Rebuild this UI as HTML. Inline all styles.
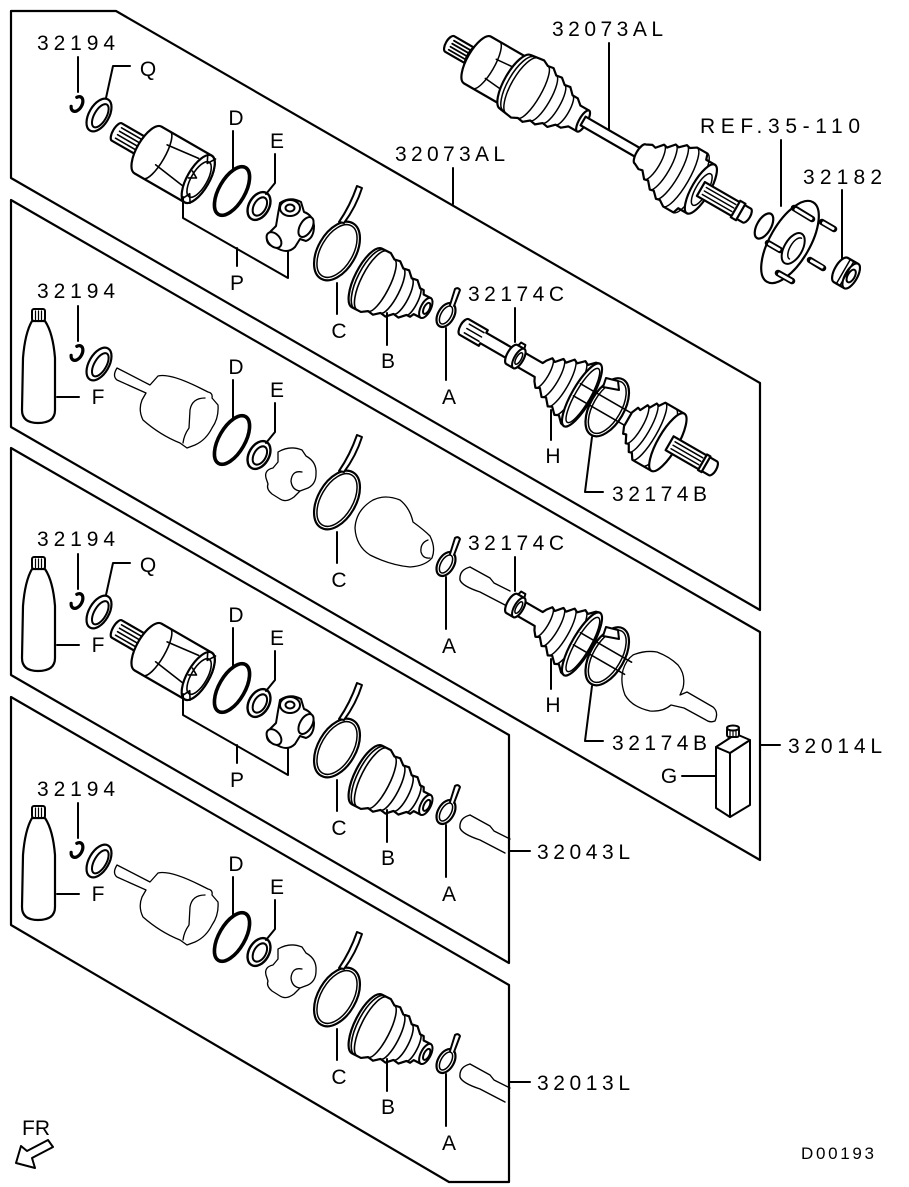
<!DOCTYPE html>
<html><head><meta charset="utf-8">
<style>
html,body{margin:0;padding:0;background:#fff;}
svg{display:block;}
text{font-family:"Liberation Sans",Arial,sans-serif;font-size:21px;fill:#000;stroke:none;}
</style></head>
<body>
<svg width="909" height="1187" viewBox="0 0 909 1187" xmlns="http://www.w3.org/2000/svg" xmlns:xlink="http://www.w3.org/1999/xlink">
<defs>
  <g id="bootB">
    <g transform="translate(367,278) rotate(27)">
      <path fill="#fff" stroke-width="2.2" d="M0,-33 L10,-33 L16,-29 L22,-30 L28,-25 L34,-26 L40,-20 L46,-21 L52,-15 L56,-15 L58,-11 L66,-11 L66,11 L58,11 L56,15 L52,15 L46,21 L40,20 L34,26 L28,25 L22,30 L16,29 L10,33 L0,33 A12 33 0 0 1 0,-33 Z"/>
      <path stroke-width="1.6" d="M3,-33 A12 33 0 0 0 3,33 M6,-33 A11 33 0 0 0 6,33 M16,-29 A8 29 0 0 1 16,29 M28,-25 A7 25 0 0 1 28,25 M40,-20 A6 20 0 0 1 40,20 M52,-15 A4 15 0 0 1 52,15"/>
      <ellipse cx="66" rx="5" ry="11" fill="#fff"/>
      <ellipse cx="67" rx="2.8" ry="6"/>
    </g>
    <path d="M387,313 V345"/>
  </g>

  <g id="common">
    <g transform="translate(77,104) rotate(30)"><ellipse rx="5" ry="8" stroke-width="3.2" stroke-dasharray="31 11" stroke-dashoffset="15.5"/></g>
    <g transform="translate(99,115) rotate(30)"><ellipse rx="10" ry="18" fill="#fff" stroke-width="2.2"/><ellipse cx="1.5" rx="6" ry="13"/></g>
    <g transform="translate(232,191) rotate(30)"><ellipse rx="13" ry="27" stroke-width="3.6"/></g>
    <g transform="translate(259,206) rotate(30)"><ellipse rx="10" ry="15" fill="#fff" stroke-width="2.4"/><ellipse cx="1" rx="6" ry="10"/></g>
    <g transform="translate(337,251) rotate(30)"><ellipse rx="19" ry="32" stroke-width="2.2"/><ellipse rx="16" ry="29" stroke-width="1.5"/></g>
    <path fill="#fff" d="M339,222 Q350,206 357,186 L362,188 Q356,207 344,223 Z"/>
    <g transform="translate(446,315) rotate(30)"><ellipse rx="8" ry="13" stroke-width="2.2"/><ellipse rx="5" ry="10" stroke-width="1.5"/></g>
    <path fill="#fff" d="M450,305 L455,289 Q458,287 460,290 L454,306"/>
    <path d="M78,57 V92 M233,131 V170 M275,154 V183 L266,194 M337,283 V314 M446,328 V380"/>
  </g>

  <g id="grpAx">
    <path d="M106,98 L113,66 H130"/>
    <g transform="translate(148,150) rotate(30)">
      <path fill="#fff" stroke-width="2.2" d="M-8,-10 L-36,-10 A4 10 0 0 0 -36,10 L-8,10 Z"/>
      <path stroke-width="1.6" d="M-34,-6 H-10 M-34,-2 H-10 M-34,2 H-10 M-34,6 H-10"/>
      <path fill="#fff" d="M-10,-8 H0 V8 H-10 Z"/>
      <path fill="#fff" stroke-width="2.2" d="M0,-27 H58 A11 27 0 0 1 58,27 H0 A11 27 0 0 1 0,-27 Z"/>
      <path stroke-width="1.6" d="M10,-27 A8 27 0 0 1 10,27 M14,9 L50,14 M14,-14 L48,-18"/>
      <ellipse cx="58" rx="11" ry="27" fill="#fff" stroke-width="2.2"/>
      <ellipse cx="59" rx="8" ry="20" stroke-width="1.6"/>
      <path stroke-width="1.6" d="M54,-26 L58,-18 L63,-26 M54,25 L58,17 L63,25 M49,-4 L56,0 L49,4"/>
    </g>
    <path fill="#fff" d="M280,203 Q290,196 301,202 L304,212 Q313,215 314,226 Q314,238 306,241 L300,239 L295,247 Q289,253 281,250 L270,245 Q265,241 268,234 L276,226 L278,214 Z"/>
    <ellipse cx="290" cy="208" rx="10" ry="8" fill="#fff"/>
    <ellipse cx="290" cy="208" rx="4.5" ry="3.5"/>
    <g transform="translate(306,227) rotate(30)"><ellipse rx="6" ry="11" fill="#fff"/></g>
    <g transform="translate(274,240) rotate(-40)"><ellipse rx="6" ry="9" fill="#fff"/></g>
    <path d="M183,197 V218 L288,278 V252 M237,248 V266"/>
    <use href="#bootB"/>
  </g>

  <g id="ghostGrp" stroke-width="1.3">
    <path d="M117,368 L150,385 L158,376 Q170,373 200,388 L208,392 Q213,393 212,398 L218,405 Q219,418 212,428 Q206,440 195,445 L187,448 L180,443 Q160,435 143,420 Q138,410 142,400 L146,393 L117,380 Q112,376 117,368 Z"/>
    <path d="M205,398 Q192,398 190,410 L189,428 Q184,435 183,443"/>
    <path d="M278,452 Q290,445 302,450 L306,456 Q317,462 316,474 Q316,484 308,488 L300,491 L294,497 Q286,503 280,499 L272,494 Q266,489 268,484 L266,478 Q264,470 273,468 L278,462 Z"/>
    <path d="M302,472 Q292,470 291,481 Q292,490 300,491"/>
  </g>

  <g id="bottleF">
    <path fill="#fff" stroke-width="2.2" d="M32,321 Q25,333 23,358 L22,410 Q22,423 38,423 Q55,423 55,410 L55,358 Q53,333 45,321 Z"/>
    <rect x="32" y="309" width="13" height="12" rx="2" fill="#fff"/>
    <path stroke-width="1.2" d="M35.5,311 V320 M38.5,311 V320 M41.5,311 V320"/>
    <path d="M57,397 H79"/>
  </g>

  <g id="gshaft" stroke-width="1.4">
    <path d="M470,567 L490,578 L494,583 L510,591 M505,605 L480,592 Q462,586 460,580 Q459,570 470,567"/>
  </g>

  <g id="hgrp">
    <g transform="translate(582,395) rotate(30)">
      <path fill="#fff" stroke-width="2.2" d="M-80,-8 L-50,-8 L-48,-12 L-44,-17 L-40,-15 L-34,-22 L-30,-20 L-24,-27 L-20,-25 L-14,-31 L-10,-29 L-4,-35 L0,-36 L0,36 L-4,35 L-10,29 L-14,31 L-20,25 L-24,27 L-30,20 L-34,22 L-40,15 L-44,17 L-48,12 L-50,8 L-80,8 A3.5 8 0 0 1 -80,-8 Z"/>
      <path stroke-width="1.5" d="M-44,-17 A5 17 0 0 1 -44,17 M-34,-22 A6 22 0 0 1 -34,22 M-24,-27 A7 27 0 0 1 -24,27 M-14,-31 A8 31 0 0 1 -14,31"/>
      <ellipse rx="10" ry="36" fill="#fff" stroke-width="2.2"/>
      <ellipse cx="1" rx="7.5" ry="31" stroke-width="1.5"/>
      <path fill="#fff" stroke-width="2.2" d="M-81,-11 H-73 A4.5 11 0 0 1 -73,11 H-81 A4.5 11 0 0 1 -81,-11 Z"/>
      <ellipse cx="-73" rx="4.5" ry="11" fill="#fff"/>
      <ellipse cx="-73" rx="2.5" ry="6.5" stroke-width="1.5"/>
      <path d="M-80,-11 L-79,-15 L-74,-15 L-73,-11"/>
      <path stroke-width="1.6" d="M-7,-9 H52 M-7,5 H52"/>
      <ellipse cx="28" cy="-2" rx="17" ry="32" stroke-width="2.2"/>
      <ellipse cx="28" cy="-2" rx="14" ry="29" stroke-width="1.5"/>
    </g>
    <path fill="#fff" d="M603,387 L606,378 L618,381 L619,390 Z"/>
    <path d="M515,308 V342 M551,410 V440 M592,437 L585,492 H603"/>
  </g>
</defs>

<g fill="none" stroke="#000" stroke-width="2" stroke-linejoin="round" stroke-linecap="round">
  <polygon points="11,11 116,11 760,383 760,610 11,178" stroke-width="2.2"/>
  <polygon points="11,200 760,632 760,860 11,427" stroke-width="2.2"/>
  <polygon points="11,448 509,735 509,963 11,675" stroke-width="2.2"/>
  <polygon points="11,697 509,985 509,1182 449,1182 11,925" stroke-width="2.2"/>

  <g transform="translate(448,43) rotate(30)" fill="#fff" stroke-width="2.2">
    <path d="M28,-9 H2 A4 9 0 0 0 2,9 H28 Z"/>
    <path fill="none" stroke-width="1.8" d="M4,-5 H26 M4,-1.5 H26 M4,2 H26 M4,5.5 H26"/>
    <path d="M28,-13 H36 A5 13 0 0 1 36,13 H28 A5 13 0 0 1 28,-13 Z"/>
    <path d="M34,-27 H76 A10 27 0 0 1 76,27 H34 A10 27 0 0 1 34,-27 Z"/>
    <path fill="none" stroke-width="1.5" d="M44,-27 A8 27 0 0 1 44,27 M50,-10 L72,-12 M50,12 L72,14"/>
    <path d="M78,-31 L92,-33 L98,-30 L104,-31 L110,-26 L116,-27 L122,-22 L128,-23 L134,-17 L140,-17 L146,-12 L156,-12 L156,12 L146,12 L140,17 L134,17 L128,23 L122,22 L116,27 L110,26 L104,31 L98,30 L92,33 L78,31 A11 31 0 0 1 78,-31 Z"/>
    <path fill="none" stroke-width="1.5" d="M82,-31 A11 31 0 0 0 82,31 M86,-32 A11 32 0 0 0 86,32 M98,-30 A8 30 0 0 1 98,30 M110,-26 A7 26 0 0 1 110,26 M122,-22 A6 22 0 0 1 122,22 M134,-17 A5 17 0 0 1 134,17"/>
    <ellipse cx="156" rx="4" ry="12"/>
    <path d="M156,-5 H226 V5 H156 Z"/>
    <path d="M222,-11 L228,-14 L232,-13 L238,-20 L242,-19 L248,-26 L252,-25 L258,-31 L262,-30 L268,-34 L280,-34 L282,-28 L292,-28 L292,28 L282,28 L280,34 L268,34 L262,30 L258,31 L252,25 L248,26 L242,19 L238,20 L232,13 L228,14 L222,11 A4 11 0 0 1 222,-11 Z"/>
    <path fill="none" stroke-width="1.5" d="M238,-20 A6 20 0 0 1 238,20 M248,-26 A7 26 0 0 1 248,26 M258,-31 A8 31 0 0 1 258,31 M268,-34 A9 34 0 0 1 268,34 M280,-34 A9 34 0 0 1 280,34"/>
    <ellipse cx="292" rx="9" ry="28"/>
    <ellipse cx="293" rx="6" ry="18" fill="none" stroke-width="1.5"/>
    <path d="M292,-8 H345 A3.5 8 0 0 1 345,8 H292 Z"/>
    <path fill="none" stroke-width="1.5" d="M296,-4 H330 M296,0 H330 M296,4 H330"/>
    <path d="M332,-9.5 H338 V9.5 H332 Z"/>
  </g>
  <path d="M609,43 V129 M453,168 V204 M781,140 V206 M842,190 V259"/>

  <!-- hub -->
  <g transform="translate(764,226) rotate(30)"><ellipse rx="7" ry="14" fill="#fff" stroke-width="2.2"/></g>
  <g transform="translate(790,242) rotate(30)">
    <ellipse rx="20" ry="46" fill="#fff" stroke-width="2.2"/>
    <ellipse cx="6" cy="4" rx="9" ry="17" fill="#fff"/>
    <path stroke-width="1.5" d="M8,-9 A5 11 0 0 0 8,15"/>
  </g>
  <g stroke-width="6.5"><path d="M794,208 L812,219 M822,222 L834,229 M810,260 L823,268 M778,273 L792,281 M768,243 L780,250"/></g>
  <g stroke-width="3" stroke="#fff"><path d="M796,209.5 L811,218.5 M823.5,223 L833,228.5 M811.5,261 L822,267 M779.5,274 L791,280.5 M769.5,244 L779,249.5"/></g>
  <g transform="translate(846,273) rotate(30)">
    <path fill="#fff" stroke-width="2.2" d="M-6,-14 H6 A6 14 0 0 1 6,14 H-6 A6 14 0 0 1 -6,-14 Z"/>
    <ellipse cx="6" rx="6" ry="14" fill="#fff"/>
    <ellipse cx="6" rx="3.5" ry="7"/>
    <path stroke-width="1.5" d="M-3,-14 V14 M1,-14 V14"/>
  </g>

  <!-- panel 1 -->
  <use href="#common"/>
  <use href="#grpAx"/>
  <g transform="translate(582,395) rotate(30)" fill="#fff">
    <path stroke-width="2.2" d="M-136,-9 H-114 V-6 H-80 V6 H-114 V9 H-136 A4 9 0 0 1 -136,-9 Z"/>
    <path fill="none" stroke-width="1.5" d="M-133,-5 H-116 M-133,0 H-116 M-133,5 H-116"/>
  </g>
  <use href="#hgrp"/>
  <g transform="translate(582,395) rotate(30)" fill="#fff" stroke-width="2.2">
    <path d="M52,-10 L55,-17 L58,-16 L62,-24 L65,-23 L69,-30 L72,-29 L76,-35 L98,-35 L98,31 L76,31 L72,25 L69,26 L65,19 L62,20 L58,12 L55,13 L52,6 Z"/>
    <path fill="none" stroke-width="1.5" d="M62,-24 A6 22 0 0 1 62,20 M69,-30 A7 28 0 0 1 69,26 M76,-35 A8 33 0 0 1 76,31 M88,-35 A9 33 0 0 1 88,31"/>
    <ellipse cx="98" cy="-2" rx="10" ry="33"/>
    <path d="M100,-10 H150 A3.5 8 0 0 1 150,6 H100 Z"/>
    <path fill="none" stroke-width="1.5" d="M104,-6 H136 M104,-2 H136 M104,2 H136"/>
    <path d="M138,-11 H142 V7 H138 Z"/>
  </g>

  <!-- panel 2 -->
  <use href="#common" transform="translate(0,249)"/>
  <use href="#ghostGrp"/>
  <use href="#bottleF"/>
  <path stroke-width="1.3" d="M373,500 Q385,494 400,500 Q410,508 413,522 Q424,530 430,536 Q436,548 432,558 Q425,566 410,567 Q390,565 370,555 Q356,546 355,528 Q356,510 373,500 Z"/>
  <path stroke-width="1.3" d="M428,540 Q420,543 421,552 Q423,559 430,558"/>
  <use href="#gshaft"/>
  <use href="#hgrp" transform="translate(0,249)"/>
  <path stroke-width="1.3" d="M633,655 Q645,650 657,652 Q670,657 678,665 Q686,675 683,688 L680,695 L687,692 L713,707 Q719,712 715,721 Q710,723 706,720 L684,708 L671,705 Q663,712 650,711 Q632,707 625,695 Q620,682 623,670 Q626,660 633,655 Z"/>
  <path fill="#fff" d="M716,747 L730,753 L730,817 L716,808 Z"/>
  <path fill="#fff" d="M730,753 L750,740 L750,805 L730,817 Z"/>
  <path fill="#fff" d="M716,747 L736,734 L750,740 L730,753 Z"/>
  <rect x="727" y="728" width="12" height="9" rx="2" fill="#fff"/>
  <ellipse cx="733" cy="728" rx="6" ry="2.5" fill="#fff"/>
  <path stroke-width="1.2" d="M730,730 V736 M733,730 V737 M736,730 V736"/>
  <path d="M682,776 H715 M761,745 H780"/>

  <!-- panel 3 -->
  <use href="#common" transform="translate(0,497)"/>
  <use href="#grpAx" transform="translate(0,497)"/>
  <use href="#bottleF" transform="translate(0,248)"/>
  <use href="#gshaft" transform="translate(0,248)"/>
  <path d="M510,851 H530"/>

  <!-- panel 4 -->
  <use href="#common" transform="translate(0,746)"/>
  <use href="#ghostGrp" transform="translate(0,497)"/>
  <use href="#bootB" transform="translate(0,746)"/>
  <use href="#bottleF" transform="translate(0,497)"/>
  <use href="#gshaft" transform="translate(0,497)"/>
  <path d="M510,1082 H530"/>

  <path fill="#fff" d="M16,1163 L21,1146 L27,1151 L48,1140 L53,1147 L32,1158 L35,1168 Z"/>
</g>

<g>
  <text x="552" y="36" textLength="111" lengthAdjust="spacing">32073AL</text>
  <text x="395" y="161" textLength="110" lengthAdjust="spacing">32073AL</text>
  <text x="700" y="133" textLength="160" lengthAdjust="spacing">REF.35-110</text>
  <text x="803" y="184" textLength="79" lengthAdjust="spacing">32182</text>

  <text x="37" y="50" textLength="78" lengthAdjust="spacing">32194</text>
  <text x="148" y="76" text-anchor="middle">Q</text>
  <text x="236" y="125" text-anchor="middle">D</text>
  <text x="277" y="148" text-anchor="middle">E</text>
  <text x="237" y="290" text-anchor="middle">P</text>
  <text x="339" y="338" text-anchor="middle">C</text>
  <text x="388" y="368" text-anchor="middle">B</text>
  <text x="449" y="404" text-anchor="middle">A</text>
  <text x="468" y="301" textLength="96" lengthAdjust="spacing">32174C</text>
  <text x="553" y="463" text-anchor="middle">H</text>
  <text x="612" y="501" textLength="95" lengthAdjust="spacing">32174B</text>

  <text x="37" y="298" textLength="78" lengthAdjust="spacing">32194</text>
  <text x="98" y="404" text-anchor="middle">F</text>
  <text x="236" y="374" text-anchor="middle">D</text>
  <text x="277" y="397" text-anchor="middle">E</text>
  <text x="339" y="587" text-anchor="middle">C</text>
  <text x="449" y="653" text-anchor="middle">A</text>
  <text x="468" y="550" textLength="96" lengthAdjust="spacing">32174C</text>
  <text x="553" y="712" text-anchor="middle">H</text>
  <text x="612" y="750" textLength="95" lengthAdjust="spacing">32174B</text>
  <text x="669" y="783" text-anchor="middle">G</text>
  <text x="788" y="753" textLength="94" lengthAdjust="spacing">32014L</text>

  <text x="37" y="546" textLength="78" lengthAdjust="spacing">32194</text>
  <text x="148" y="572" text-anchor="middle">Q</text>
  <text x="98" y="652" text-anchor="middle">F</text>
  <text x="236" y="622" text-anchor="middle">D</text>
  <text x="277" y="645" text-anchor="middle">E</text>
  <text x="237" y="787" text-anchor="middle">P</text>
  <text x="339" y="835" text-anchor="middle">C</text>
  <text x="388" y="865" text-anchor="middle">B</text>
  <text x="449" y="901" text-anchor="middle">A</text>
  <text x="537" y="859" textLength="93" lengthAdjust="spacing">32043L</text>

  <text x="37" y="796" textLength="78" lengthAdjust="spacing">32194</text>
  <text x="98" y="901" text-anchor="middle">F</text>
  <text x="236" y="871" text-anchor="middle">D</text>
  <text x="277" y="894" text-anchor="middle">E</text>
  <text x="339" y="1084" text-anchor="middle">C</text>
  <text x="388" y="1114" text-anchor="middle">B</text>
  <text x="449" y="1150" text-anchor="middle">A</text>
  <text x="537" y="1090" textLength="93" lengthAdjust="spacing">32013L</text>

  <text x="22" y="1135" textLength="28" lengthAdjust="spacing">FR</text>
  <text x="801" y="1159" textLength="73" lengthAdjust="spacing" style="font-size:17px">D00193</text>
</g>
</svg>
</body></html>
